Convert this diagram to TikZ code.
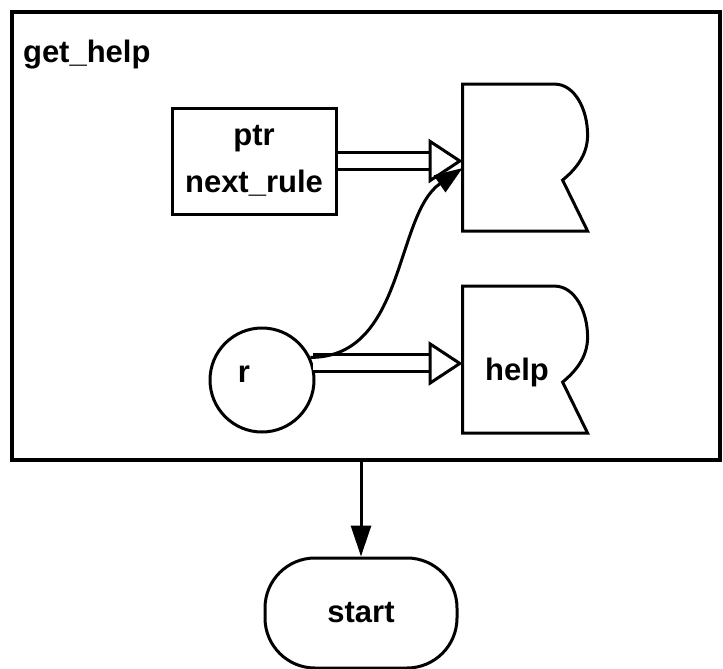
\documentclass[tikz,border=0pt]{standalone}
\usepackage{fontspec}
\setsansfont{Liberation Sans}
\usetikzlibrary{arrows.meta,calc}
\tikzset{line/.style={draw, line width=1.5pt},
         txt/.style={font=\sffamily\bfseries\fontsize{15.5}{23.5}\selectfont},
         dbl/.style={double, double distance=7pt, line width=1.5pt,
                     -{Triangle[fill=white, line width=1.5pt, length=17pt, width=22pt]}},
         flow/.style={line width=1.5pt, -{Triangle[length=14pt, width=10pt]}},
         store/.style={minimum width=62.5pt, minimum height=73.5pt, inner sep=0pt}}

\begin{document}
\begin{tikzpicture}[x=.5pt, y=-.5pt]
      \useasboundingbox (0,0) rectangle (723,669);
      \node[draw, line width=2pt, minimum width=354pt, minimum height=224pt] (gh) at (366,236) {};
      \node[txt, anchor=base west] (ghl) at (16,62) {get\_help};

      \node[line, txt, align=center, minimum width=82pt, minimum height=53pt] (ptr) at (254,161) {ptr\\next\_rule};
      \node[line, circle, minimum size=52pt] (r) at (262,380) {};
      \node[txt, anchor=base] (rl) at (244,382) {r};
      \node[store] (d1) at (525.5,158) {};
      \node[store] (d2) at (525.5,360) {};
      \node[txt, anchor=base] (hl) at (517,380) {help};
      \foreach \d in {d1,d2}
        \draw[line, shift={(\d.north west)}] (0,0) -- (92,0) .. controls (112,0) and (125,25) .. (125,51)
          .. controls (125,72) and (112,86) .. (100,96) -- (125,147) -- (0,147) -- cycle;

      \draw[dbl] (ptr.east) -- (ptr.east -| d1.west);
      \draw[dbl] (r.18) -- (r.18 -| d2.west);
      \draw[flow] (r.25) .. controls +(95,0) and +(-68,47) .. ($(d1.west)+(0,10)$);

      \node[line, txt, minimum width=96pt, minimum height=55pt, rounded corners=25pt] (st) at (361,613) {start};
      \draw[flow, -{Triangle[length=15.5pt, width=10pt]}] (gh.south -| st.north) -- (st.north);
    \end{tikzpicture}
\end{document}
